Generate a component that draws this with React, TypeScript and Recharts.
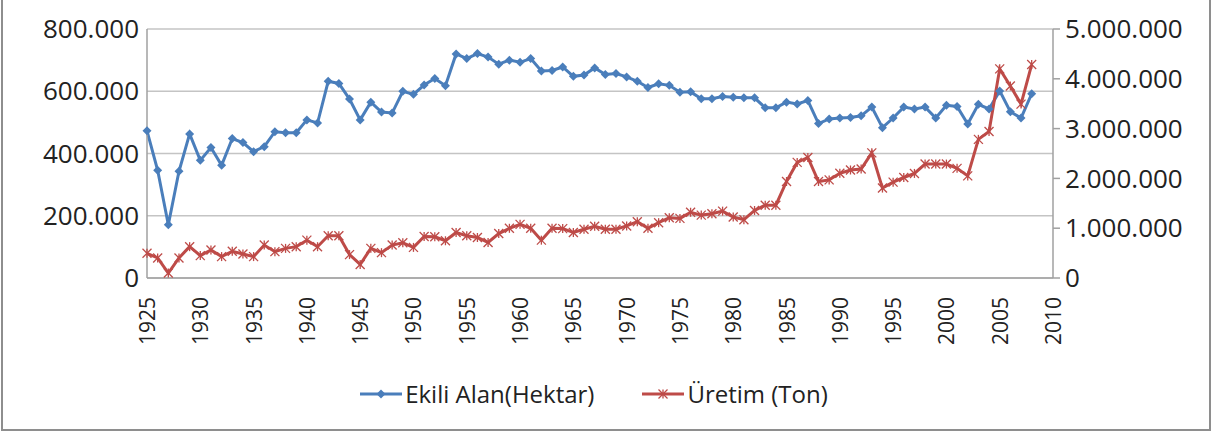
import { LineChart, Line, XAxis, YAxis, CartesianGrid, Legend } from 'recharts';

const years = [
  1925, 1926, 1927, 1928, 1929, 1930, 1931, 1932, 1933, 1934,
  1935, 1936, 1937, 1938, 1939, 1940, 1941, 1942, 1943, 1944,
  1945, 1946, 1947, 1948, 1949, 1950, 1951, 1952, 1953, 1954,
  1955, 1956, 1957, 1958, 1959, 1960, 1961, 1962, 1963, 1964,
  1965, 1966, 1967, 1968, 1969, 1970, 1971, 1972, 1973, 1974,
  1975, 1976, 1977, 1978, 1979, 1980, 1981, 1982, 1983, 1984,
  1985, 1986, 1987, 1988, 1989, 1990, 1991, 1992, 1993, 1994,
  1995, 1996, 1997, 1998, 1999, 2000, 2001, 2002, 2003, 2004,
  2005, 2006, 2007, 2008,
];

// Ekili Alan (Hektar)
const ekiliAlan = [
  473000, 346000, 171000, 343000, 463000, 378000, 419000, 362000, 448000, 435000,
  406000, 422000, 470000, 467000, 467000, 508000, 498000, 632000, 625000, 575000,
  508000, 565000, 533000, 530000, 600000, 590000, 620000, 641000, 618000, 720000,
  705000, 721000, 710000, 687000, 700000, 693000, 705000, 665000, 667000, 678000,
  648000, 652000, 675000, 654000, 657000, 646000, 632000, 612000, 624000, 619000,
  597000, 598000, 576000, 576000, 583000, 581000, 579000, 579000, 547000, 547000,
  565000, 559000, 570000, 496000, 511000, 514000, 516000, 521000, 549000, 483000,
  514000, 549000, 543000, 549000, 514000, 555000, 551000, 495000, 558000, 543000,
  601000, 534000, 514000, 592000,
];

// Üretim (Ton)
const uretim = [
  496000, 403000, 99000, 403000, 629000, 450000, 562000, 430000, 536000, 483000,
  430000, 661000, 529000, 595000, 629000, 760000, 629000, 847000, 847000, 470000,
  272000, 595000, 509000, 661000, 708000, 615000, 833000, 827000, 748000, 913000,
  847000, 813000, 714000, 893000, 998000, 1077000, 998000, 760000, 998000, 992000,
  913000, 978000, 1038000, 978000, 978000, 1045000, 1131000, 998000, 1111000, 1210000,
  1197000, 1320000, 1263000, 1290000, 1343000, 1224000, 1171000, 1356000, 1462000, 1462000,
  1938000, 2321000, 2420000, 1938000, 1970000, 2103000, 2169000, 2189000, 2513000, 1806000,
  1925000, 2018000, 2100000, 2288000, 2288000, 2288000, 2202000, 2050000, 2784000, 2943000,
  4200000, 3855000, 3492000, 4286000,
];

const xTicks = [1925, 1930, 1935, 1940, 1945, 1950, 1955, 1960, 1965, 1970, 1975, 1980, 1985, 1990, 1995, 2000, 2005, 2010];
const leftTicks = [0, 200000, 400000, 600000, 800000];
const rightTicks = [0, 1000000, 2000000, 3000000, 4000000, 5000000];

const BLUE = '#4a7ebb';
const RED = '#be4b48';
const FONT = '"Open Sans", sans-serif';

const data = years.map((year, i) => ({ year, alan: ekiliAlan[i], uretim: uretim[i] }));

const fmt = (v: number) => v.toLocaleString('de-DE');

function Diamond({ cx, cy }: any) {
  if (cx == null || cy == null) return null;
  const r = 4.5;
  return <polygon points={`${cx},${cy - r} ${cx + r},${cy} ${cx},${cy + r} ${cx - r},${cy}`} fill={BLUE} />;
}

function Star({ cx, cy }: any) {
  if (cx == null || cy == null) return null;
  const r = 4.5;
  return (
    <g stroke={RED} strokeWidth={1.3}>
      <line x1={cx - r} y1={cy - r} x2={cx + r} y2={cy + r} />
      <line x1={cx - r} y1={cy + r} x2={cx + r} y2={cy - r} />
      <line x1={cx} y1={cy - r} x2={cx} y2={cy + r} />
    </g>
  );
}

function YearTick({ x, payload }: any) {
  return (
    <g transform={`translate(${x},297)`}>
      <text transform="rotate(-90)" textAnchor="end" dominantBaseline="central" fontSize={21} fill="#222" fontFamily={FONT}>
        {payload.value}
      </text>
    </g>
  );
}

function LegendContent() {
  const items = [
    { label: 'Ekili Alan(Hektar)', color: BLUE, Mark: Diamond },
    { label: 'Üretim (Ton)', color: RED, Mark: Star },
  ];
  return (
    <div style={{ display: 'flex', justifyContent: 'center', gap: 48, fontFamily: FONT, fontSize: 24, color: '#222', paddingLeft: 14 }}>
      {items.map(({ label, color, Mark }) => (
        <div key={label} style={{ display: 'flex', alignItems: 'center', gap: 3 }}>
          <svg width={42} height={14}>
            <line x1={0} y1={7} x2={42} y2={7} stroke={color} strokeWidth={3} />
            <Mark cx={21} cy={7} />
          </svg>
          <span>{label}</span>
        </div>
      ))}
    </div>
  );
}

export default function App() {
  return (
    <div style={{ position: 'absolute', left: 0, top: 0, width: 1214, height: 434, background: '#fff' }}>
      <div style={{ position: 'absolute', left: 1, top: -2, width: 1206, height: 429, border: '2px solid #8e8e8e' }} />
      <LineChart width={1214} height={434} data={data} margin={{ top: 29, right: 40, bottom: 24, left: 0 }}>
        <CartesianGrid yAxisId="left" vertical={false} stroke="#c4c4c4" strokeWidth={1.5} />
        <XAxis
          dataKey="year"
          type="number"
          domain={[1925, 2010]}
          ticks={xTicks}
          interval={0}
          tick={<YearTick />}
          tickLine={false}
          axisLine={{ stroke: '#a0a0a0', strokeWidth: 1.5 }}
          height={99}
        />
        <YAxis
          yAxisId="left"
          domain={[0, 800000]}
          ticks={leftTicks}
          tickFormatter={fmt}
          width={147}
          tickLine={false}
          axisLine={{ stroke: '#a0a0a0', strokeWidth: 1.5 }}
          tick={{ fontSize: 26, fill: '#222', fontFamily: FONT }}
          tickMargin={2}
        />
        <YAxis
          yAxisId="right"
          orientation="right"
          domain={[0, 5000000]}
          ticks={rightTicks}
          tickFormatter={fmt}
          width={121}
          tickSize={7}
          tickMargin={5}
          tickLine={{ stroke: '#a0a0a0', strokeWidth: 1.5 }}
          axisLine={{ stroke: '#a0a0a0', strokeWidth: 1.5 }}
          tick={{ fontSize: 26, fill: '#222', fontFamily: FONT, textAnchor: 'start' }}
        />
        <Legend verticalAlign="bottom" align="center" content={<LegendContent />} />
        <Line
          yAxisId="left"
          dataKey="alan"
          name="Ekili Alan(Hektar)"
          stroke={BLUE}
          strokeWidth={3}
          dot={<Diamond />}
          isAnimationActive={false}
        />
        <Line
          yAxisId="right"
          dataKey="uretim"
          name="Üretim (Ton)"
          stroke={RED}
          strokeWidth={3}
          dot={<Star />}
          isAnimationActive={false}
        />
      </LineChart>
    </div>
  );
}
